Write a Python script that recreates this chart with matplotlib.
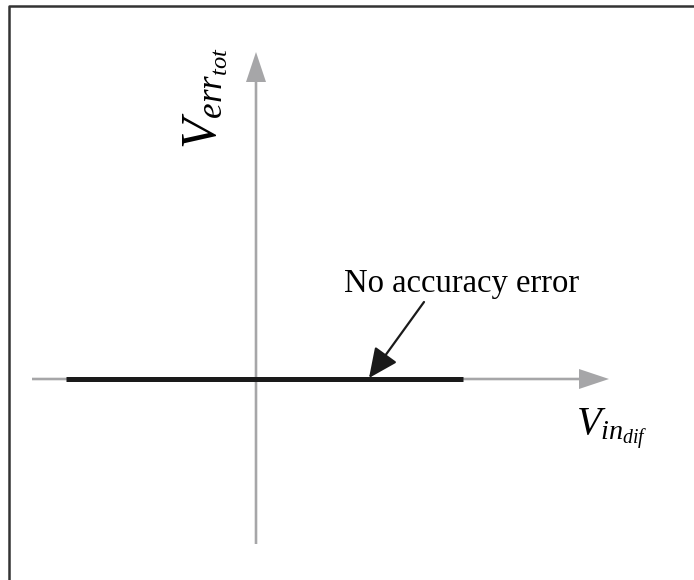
import matplotlib.pyplot as plt

plt.rcParams['mathtext.fontset'] = 'custom'
plt.rcParams['mathtext.it'] = 'Liberation Serif:italic'
plt.rcParams['mathtext.rm'] = 'Liberation Serif'

# axis extents (schematic units, origin at the axes crossing)
x_axis = [-224, 353]
y_axis = [-165, 327]
# the "no accuracy error" line: error stays at zero over the input range
v_indif = [-190, 207]
v_errtot = [0, 0]
note = "No accuracy error"
note_from = (168, 77)
note_to = (113, 1)

fig = plt.figure(figsize=(6.94, 5.8), dpi=100)
ax = fig.add_axes([0, 0, 1, 1])
ax.set_xlim(-256, 438)
ax.set_ylim(-201, 379)
ax.set_aspect('equal')
ax.axis('off')

grey = '#a6a6a8'
# horizontal and vertical axes with grey arrow heads
ax.arrow(x_axis[0], 0, x_axis[1] - x_axis[0], 0, width=2.6, head_width=20,
         head_length=30, length_includes_head=True, color=grey, lw=0)
ax.arrow(0, y_axis[0], 0, y_axis[1] - y_axis[0], width=2.6, head_width=20,
         head_length=30, length_includes_head=True, color=grey, lw=0)

# black line on the x axis
ax.plot(v_indif, v_errtot, color='#1a1a1a', lw=3.6, solid_capstyle='butt')

# annotation with arrow
ax.annotate('', xy=note_to, xytext=note_from,
            arrowprops=dict(arrowstyle='-|>,head_length=1.3,head_width=0.6',
                            color='#1a1a1a', lw=1.6, mutation_scale=14,
                            shrinkA=0, shrinkB=0))
ax.text(206, 87, note, ha='center', va='baseline', fontsize=23.5,
        family='Liberation Serif')

# axis labels
ax.text(320, -56, r'$V_{in_{dif}}$', ha='left', va='baseline', fontsize=29)
ax.text(-50, 281, r'$V_{err_{tot}}$', ha='center', va='center', fontsize=36,
        rotation=90)

# frame (only top and left edges are visible)
ax.plot([-247.5, -247.5, 440], [-205, 373.5, 373.5], color='#333333', lw=1.8)

plt.savefig('out.png', dpi=100)
